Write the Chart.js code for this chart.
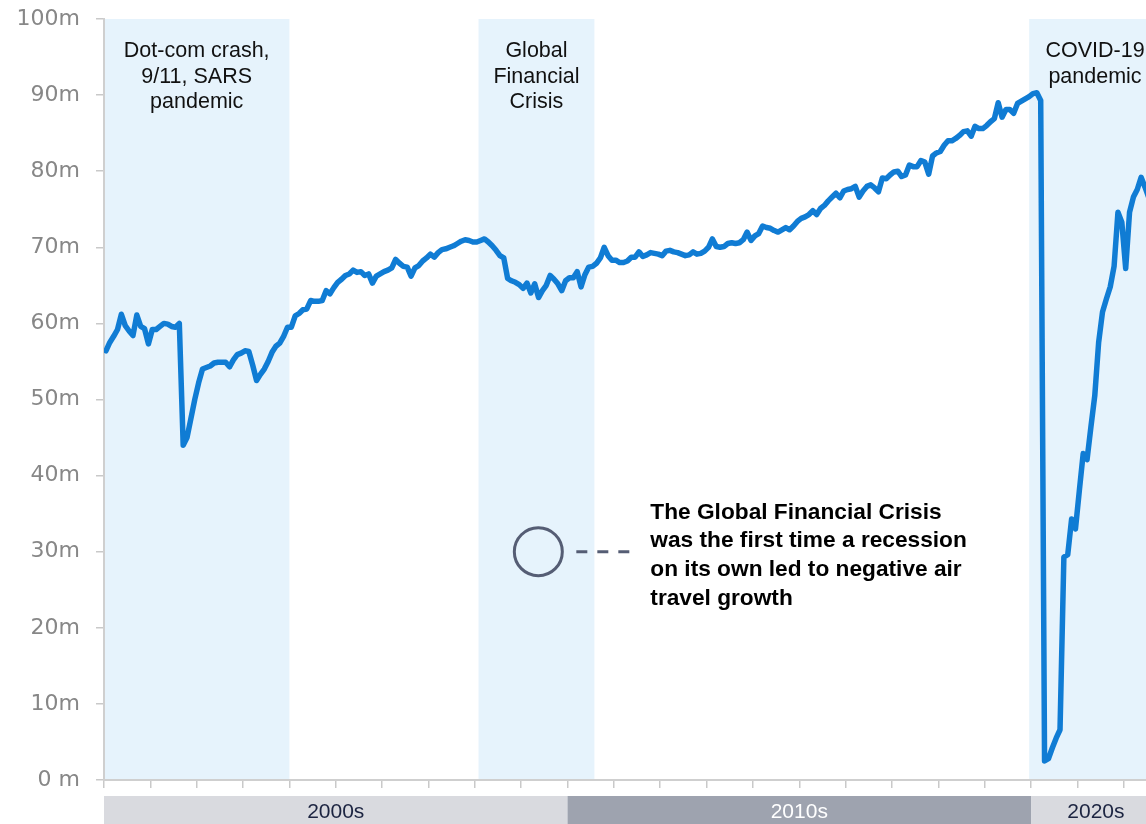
<!DOCTYPE html>
<html>
<head>
<meta charset="utf-8">
<script src="https://cdn.jsdelivr.net/npm/chart.js@4.4.1/dist/chart.umd.min.js"></script>
<style>
  html, body { margin: 0; padding: 0; background: #fff; }
  canvas { display: block; }
</style>
</head>
<body>
<canvas id="airTravel" width="1146" height="824"></canvas>
<script>
// Monthly air passengers (millions), one value per month from Jan 2000
const passengers2000s = [
  56.4, 57.5, 58.3, 59.2, 61.2, 59.7, 59.0, 58.4, 61.1, 59.6, 59.3, 57.3,
  59.2, 59.2, 59.6, 60.0, 59.9, 59.6, 59.5, 60.0, 44.0, 45.0, 47.5, 50.0,
  52.2, 54.0, 54.2, 54.4, 54.8, 54.9, 54.9, 54.9, 54.3, 55.2, 55.9, 56.1,
  56.4, 56.3, 54.5, 52.5, 53.3, 54.0, 55.0, 56.2, 57.0, 57.4, 58.3, 59.5,
  59.5, 61.0, 61.3, 61.8, 61.9, 63.0, 62.9, 62.9, 63.0, 64.3, 63.9, 64.7,
  65.4, 65.8, 66.3, 66.5, 67.0, 66.7, 66.8, 66.3, 66.5, 65.3, 66.2, 66.5,
  66.8, 67.0, 67.3, 68.4, 67.9, 67.5, 67.4, 66.2, 67.3, 67.6, 68.2, 68.6,
  69.1, 68.7, 69.3, 69.7, 69.8, 70.0, 70.2, 70.5, 70.8, 71.0, 70.9, 70.7,
  70.7, 70.9, 71.1, 70.7, 70.2, 69.6, 68.9, 68.6, 65.9, 65.6, 65.4, 65.1,
  64.6, 65.3, 64.0, 65.2, 63.4, 64.3, 65.0, 66.3, 65.8, 65.2, 64.3, 65.6
];
const passengers2010s = [
  66.0, 66.0, 66.8, 64.8, 66.4, 67.4, 67.5, 67.9, 68.6, 70.0, 68.9, 68.3,
  68.3, 68.0, 68.0, 68.2, 68.7, 68.7, 69.4, 68.8, 69.0, 69.3, 69.2, 69.1,
  68.9, 69.5, 69.6, 69.4, 69.3, 69.1, 68.9, 69.0, 69.4, 69.1, 69.2, 69.5,
  70.0, 71.1, 70.1, 70.0, 70.1, 70.5, 70.6, 70.5, 70.6, 71.0, 72.0, 70.9,
  71.5, 71.8, 72.8, 72.6, 72.5, 72.2, 72.0, 72.3, 72.6, 72.3, 72.8, 73.4,
  73.8, 74.0, 74.3, 74.8, 74.3, 75.1, 75.5, 76.1, 76.6, 77.1, 76.5, 77.4,
  77.6, 77.7, 78.0, 76.6, 77.4, 78.0, 78.2, 77.8, 77.3, 79.1, 79.0, 79.5,
  79.9, 80.0, 79.3, 79.5, 80.8, 80.6, 80.6, 81.4, 81.2, 79.6, 82.0, 82.4,
  82.6, 83.4, 84.0, 84.0, 84.3, 84.7, 85.2, 85.3, 84.6, 85.9, 85.6, 85.6,
  86.0, 86.5, 86.9, 89.0, 87.1, 88.1, 88.1, 87.6, 88.9, 89.2, 89.5, 89.8
];
const passengers2020s = [
  90.2, 90.3, 89.3, 2.5, 2.8, 4.2, 5.5, 6.6, 29.3, 29.6, 34.3, 33.0,
  38.0, 42.9, 42.1, 46.4, 50.5, 57.5, 61.5, 63.2, 64.8, 67.5, 74.6, 73.3,
  67.2, 74.6, 76.6, 77.6, 79.2, 77.9, 76.5
];

// Shaded crisis periods (decimal years)
const recessionStarts = [2000, 2008.08, 2019.96];
const recessionEnds = [2004, 2010.58, 2022.8];
const recessionLabels = [
  ["Dot-com crash,", "9/11, SARS", "pandemic"],
  ["Global", "Financial", "Crisis"],
  ["COVID-19", "pandemic"]
];

const decadeLabels = ["2000s", "2010s", "2020s"];
const decadeStarts = [2000, 2010, 2020];
const decadeEnds = [2010, 2020, 2022.8];

const calloutLines = [
  "The Global Financial Crisis",
  "was the first time a recession",
  "on its own led to negative air",
  "travel growth"
];

const monthly = passengers2000s.concat(passengers2010s, passengers2020s);
const points = monthly.map((v, i) => ({ x: 2000 + (i + 0.5) / 12, y: v }));

Chart.defaults.font.family = "'Liberation Sans', Arial, sans-serif";

const recessionBands = {
  id: "recessionBands",
  beforeDraw(chart) {
    const { ctx, chartArea, scales: { x } } = chart;
    ctx.save();
    ctx.beginPath();
    ctx.rect(chartArea.left, chartArea.top, chartArea.width, chartArea.height);
    ctx.clip();
    ctx.font = "21.5px 'Liberation Sans', Arial, sans-serif";
    ctx.textAlign = "center";
    ctx.textBaseline = "alphabetic";
    recessionStarts.forEach((start, i) => {
      const x0 = x.getPixelForValue(start);
      const x1 = x.getPixelForValue(recessionEnds[i]);
      ctx.fillStyle = "rgb(230, 243, 252)";
      ctx.fillRect(x0, chartArea.top, x1 - x0, chartArea.height);
      ctx.fillStyle = "#111";
      recessionLabels[i].forEach((line, j) => {
        ctx.fillText(line, (x0 + x1) / 2, chartArea.top + 38 + j * 25.5);
      });
    });
    ctx.restore();
  }
};

const decadeBar = {
  id: "decadeBar",
  afterDraw(chart) {
    const { ctx, scales: { x } } = chart;
    const top = x.bottom + 8;
    const h = chart.height - top;
    const fills = ["#d9dadf", "#9ea3af", "#d9dadf"];
    const inks = ["#1c2441", "#ffffff", "#1c2441"];
    ctx.save();
    ctx.font = "21px 'Liberation Sans', Arial, sans-serif";
    ctx.textAlign = "center";
    ctx.textBaseline = "middle";
    decadeStarts.forEach((start, i) => {
      const x0 = x.getPixelForValue(start);
      const x1 = x.getPixelForValue(decadeEnds[i]);
      ctx.fillStyle = fills[i];
      ctx.fillRect(x0, top, x1 - x0, h);
      ctx.fillStyle = inks[i];
      ctx.fillText(decadeLabels[i], (x0 + x1) / 2, top + 16);
    });
    ctx.restore();
  }
};

const callout = {
  id: "callout",
  afterDatasetsDraw(chart) {
    const { ctx, scales: { x, y } } = chart;
    const cx = x.getPixelForValue(2009.37);
    const cy = y.getPixelForValue(30);
    ctx.save();
    ctx.strokeStyle = "#555d74";
    ctx.lineWidth = 3;
    ctx.beginPath();
    ctx.arc(cx, cy, 24, 0, Math.PI * 2);
    ctx.stroke();
    ctx.setLineDash([11, 10]);
    ctx.beginPath();
    ctx.moveTo(cx + 38, cy);
    ctx.lineTo(cx + 92, cy);
    ctx.stroke();
    ctx.fillStyle = "#000";
    ctx.font = "bold 22.7px 'Liberation Sans', Arial, sans-serif";
    ctx.textAlign = "left";
    ctx.textBaseline = "alphabetic";
    calloutLines.forEach((line, j) => {
      ctx.fillText(line, cx + 112, cy - 33 + j * 28.7);
    });
    ctx.restore();
  }
};

new Chart(document.getElementById("airTravel"), {
  type: "line",
  data: {
    datasets: [
      {
        label: "Air passengers",
        data: points,
        borderColor: "#107cd4",
        borderWidth: 5.5,
        pointRadius: 0,
        tension: 0,
        borderJoinStyle: "round",
        borderCapStyle: "round",
        fill: false
      }
    ]
  },
  options: {
    responsive: false,
    animation: false,
    layout: { padding: { top: 19, right: 0, bottom: 36, left: 0 } },
    plugins: {
      legend: { display: false },
      tooltip: { enabled: false }
    },
    scales: {
      x: {
        type: "linear",
        min: 2000,
        max: 2022.48,
        grid: { drawOnChartArea: false, color: "#c9c9c9", lineWidth: 1.5, tickLength: 8 },
        border: { color: "#cfcfcf", width: 2 },
        ticks: { display: false, stepSize: 1, includeBounds: false }
      },
      y: {
        min: 0,
        max: 100,
        afterFit(scale) {
          // fixed axis width; label overflow is covered by the layout padding
          scale.width = 104;
          scale.paddingTop = 0;
          scale.paddingBottom = 0;
        },
        grid: { drawOnChartArea: false, color: "#c9c9c9", lineWidth: 1.5, tickLength: 8 },
        border: { color: "#cfcfcf", width: 2 },
        ticks: {
          stepSize: 10,
          padding: 16,
          color: "#878787",
          font: { family: "'DejaVu Sans'", size: 22 },
          callback: (v) => (v === 0 ? "0 m" : v + "m")
        }
      }
    }
  },
  plugins: [recessionBands, decadeBar, callout]
});
</script>
</body>
</html>
